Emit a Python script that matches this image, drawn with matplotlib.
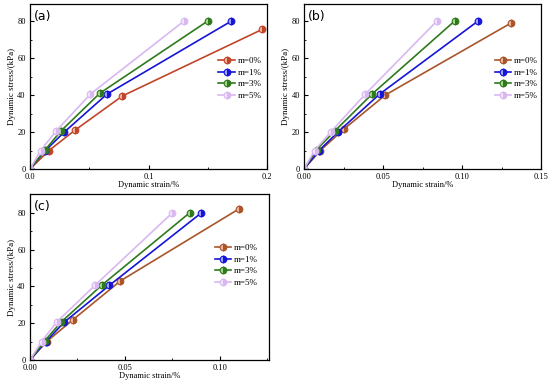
import numpy as np
import matplotlib.pyplot as plt
from matplotlib.ticker import AutoMinorLocator

labels = ["m=0%", "m=1%", "m=3%", "m=5%"]
colors_a = ["#c0462a", "#1515d8", "#2f7a1c", "#d9b8f2"]
colors_bc = ["#a8552a", "#1515d8", "#2f7a1c", "#d9b8f2"]
light = ["#f0b8a0", "#a8a8ff", "#a8d890", "#f2e6fb"]

# panel (a)
strain_a = [
    [0.0, 0.016, 0.038, 0.078, 0.196],
    [0.0, 0.013, 0.029, 0.065, 0.170],
    [0.0, 0.013, 0.026, 0.059, 0.150],
    [0.0, 0.009, 0.022, 0.051, 0.130],
]
stress_a = [
    [0, 10, 21, 39.5, 75.5],
    [0, 10, 20, 40.5, 80],
    [0, 10.5, 20.5, 41, 80],
    [0, 10, 20.5, 40.5, 80],
]

# panel (b)
strain_b = [
    [0.0, 0.0103, 0.0251, 0.0514, 0.1306],
    [0.0, 0.0095, 0.0215, 0.0478, 0.1100],
    [0.0, 0.0080, 0.0194, 0.0430, 0.0952],
    [0.0, 0.0067, 0.0169, 0.0388, 0.0840],
]
stress_b = [
    [0, 10, 21.5, 40, 78.8],
    [0, 10, 20, 40.5, 80],
    [0, 10.5, 20.5, 40.5, 80],
    [0, 10, 20, 40.5, 80],
]

# panel (c)
strain_c = [
    [0.0, 0.0088, 0.0228, 0.0477, 0.1100],
    [0.0, 0.0084, 0.0180, 0.0418, 0.0904],
    [0.0, 0.0079, 0.0163, 0.0379, 0.0842],
    [0.0, 0.0061, 0.0140, 0.0344, 0.0751],
]
stress_c = [
    [0, 10, 22, 43, 82],
    [0, 10, 20.5, 40.5, 80],
    [0, 10.5, 20.5, 40.7, 80],
    [0, 10, 20.5, 40.7, 80],
]

serif = ["Liberation Serif", "DejaVu Serif"]

fig = plt.figure(figsize=(5.5, 3.85), dpi=100)

panels = [
    ("(a)", [0.0545, 0.561, 0.431, 0.4286], strain_a, stress_a, colors_a,
     (0, 0.2), [0, 0.1, 0.2], ["0.0", "0.1", "0.2"], 89.2, (0.78, 0.70)),
    ("(b)", [0.5527, 0.561, 0.4316, 0.4286], strain_b, stress_b, colors_bc,
     (0, 0.15), [0, 0.05, 0.10, 0.15], ["0.00", "0.05", "0.10", "0.15"], 89.2, (0.79, 0.70)),
    ("(c)", [0.0545, 0.065, 0.4345, 0.431], strain_c, stress_c, colors_bc,
     (0, 0.126), [0, 0.05, 0.10], ["0.00", "0.05", "0.10"], 90.2, (0.76, 0.72)),
]

for tag, pos, xs, ys, cols, xlim, xt, xtl, ymax, lpos in panels:
    ax = fig.add_axes(pos)
    for x, y, c, lc, lab in zip(xs, ys, cols, light, labels):
        ax.plot(x, y, "-o", color=c, lw=1.2, ms=4.8, mfc=c, mec=c,
                fillstyle="right", markerfacecoloralt=lc, mew=0.8, label=lab)
    ax.set_xlim(*xlim)
    ax.set_ylim(0, ymax)
    ax.set_xticks(xt)
    ax.set_xticklabels(xtl, family=serif, fontsize=6)
    ax.set_yticks([0, 20, 40, 60, 80])
    ax.set_yticklabels(["0", "20", "40", "60", "80"], family=serif, fontsize=6)
    ax.xaxis.set_minor_locator(AutoMinorLocator(2))
    ax.yaxis.set_minor_locator(AutoMinorLocator(2))
    ax.tick_params(which="both", direction="in", top=False, right=False)
    ax.tick_params(axis="x", pad=3)
    ax.tick_params(axis="y", pad=3)
    ax.tick_params(which="major", length=3, width=0.8)
    ax.tick_params(which="minor", length=1.6, width=0.6)
    for s in ax.spines.values():
        s.set_linewidth(0.9)
    ax.set_xlabel("Dynamic strain/%", family=serif, fontsize=6, labelpad=0)
    ax.set_ylabel("Dynamic stress/(kPa)", family=serif, fontsize=6.5, labelpad=1)
    ax.text(0.015, 0.965, tag, transform=ax.transAxes, ha="left", va="top", fontsize=9)
    ax.legend(loc="upper left", bbox_to_anchor=lpos, frameon=False,
              prop={"family": serif, "size": 6.5}, handlelength=1.8,
              handletextpad=0.3, labelspacing=0.35, borderaxespad=0)

fig.savefig("out.png", dpi=100)
